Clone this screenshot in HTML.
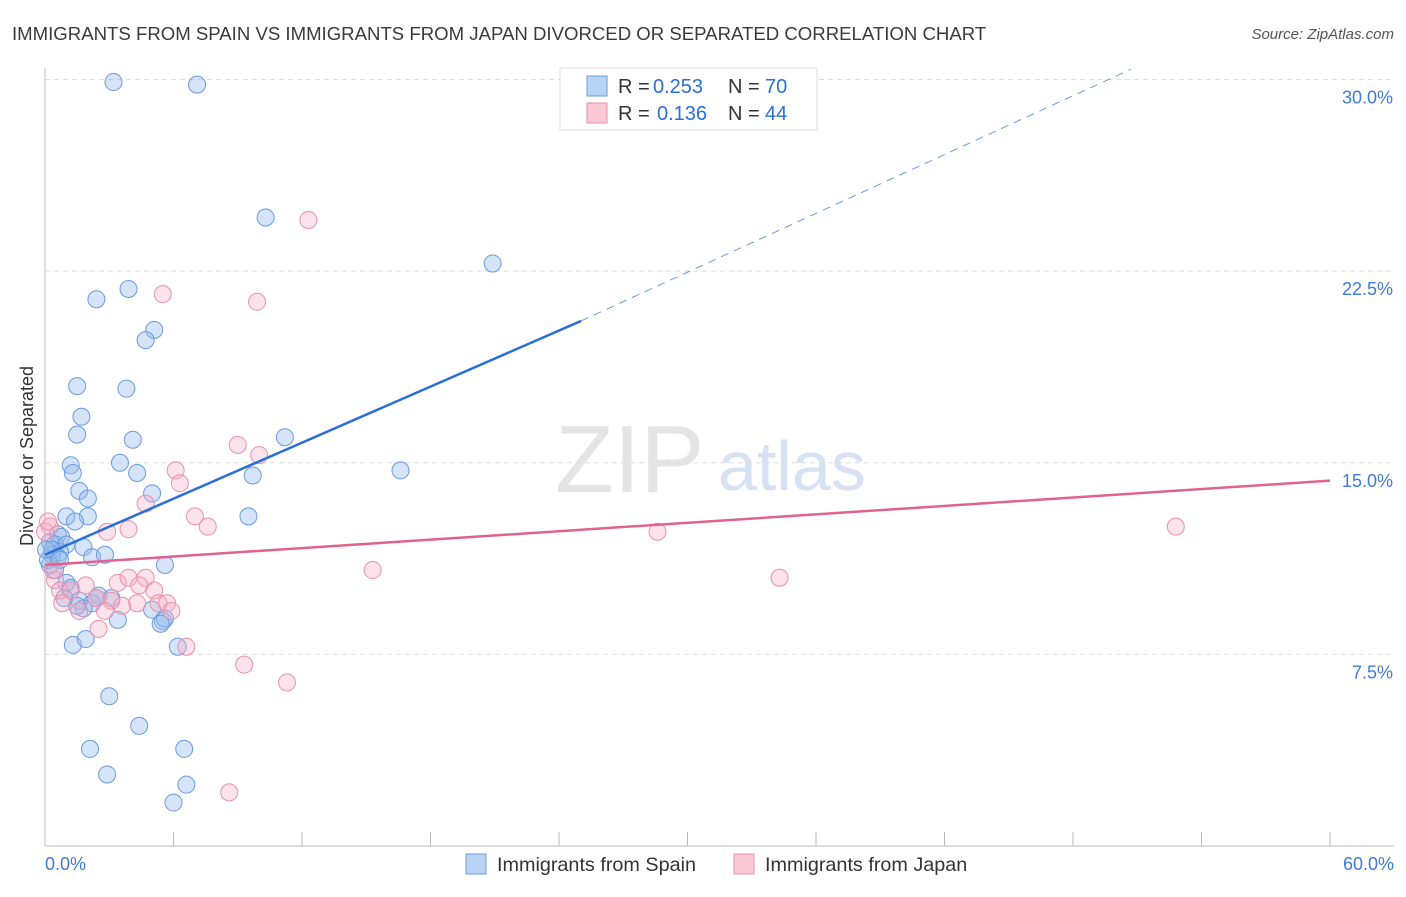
<!DOCTYPE html>
<html><head><meta charset="utf-8"><style>
body{margin:0;background:#fff;font-family:"Liberation Sans",sans-serif}
svg text{font-family:"Liberation Sans",sans-serif}
</style></head><body>
<svg id="chart" width="1406" height="892">
<text x="12" y="40" font-size="18.6" fill="#3a3a3a">IMMIGRANTS FROM SPAIN VS IMMIGRANTS FROM JAPAN DIVORCED OR SEPARATED CORRELATION CHART</text>
<text x="1394" y="39" font-size="15" fill="#555" text-anchor="end" font-style="italic">Source: ZipAtlas.com</text>
<text x="33" y="456" font-size="18" fill="#333" text-anchor="middle" transform="rotate(-90 33 456)">Divorced or Separated</text>
<text x="555" y="492" font-size="96" fill="#e4e4e4" font-family="Liberation Serif">ZIP</text>
<text x="718" y="490" font-size="70" fill="#d4e2f4">atlas</text>
<g id="grid"></g><g id="marks"></g>
<g>
<rect x="560" y="68" width="257" height="62" fill="#fff" stroke="#ddd"/>
<rect x="587" y="76" width="20" height="20" fill="#b9d3f5" stroke="#6a9be0"/>
<rect x="587" y="103" width="20" height="20" fill="#f9c9d6" stroke="#e891ab"/>
<text x="618" y="93" font-size="20" fill="#333">R =</text>
<text x="653" y="93" font-size="20" fill="#2a6fd6">0.253</text>
<text x="728" y="93" font-size="20" fill="#333">N =</text>
<text x="765" y="93" font-size="20" fill="#2a6fd6">70</text>
<text x="618" y="120" font-size="20" fill="#333">R =</text>
<text x="657" y="120" font-size="20" fill="#2a6fd6">0.136</text>
<text x="728" y="120" font-size="20" fill="#333">N =</text>
<text x="765" y="120" font-size="20" fill="#2a6fd6">44</text>
</g>
<g>
<rect x="466" y="854" width="20" height="20" fill="#b9d3f5" stroke="#6a9be0"/>
<text x="497" y="871" font-size="19.8" fill="#333">Immigrants from Spain</text>
<rect x="734" y="854" width="20" height="20" fill="#f9c9d6" stroke="#e891ab"/>
<text x="765" y="871" font-size="19.8" fill="#333">Immigrants from Japan</text>
</g>
</svg>
<script>
const yTicks=[7.5,15,22.5,30];
const yTickLabels=["7.5%","15.0%","22.5%","30.0%"];
const xTickLabels=["0.0%","60.0%"];
const spainX=[3.2,7.1,10.3,20.9,2.4,3.9,5.1,4.7,1.5,3.8,1.7,1.5,4.1,11.2,1.2,1.3,3.5,4.3,16.6,9.7,1.6,5.0,2.0,1.0,2.0,1.4,9.5,0.6,0.75,0.23,0.47,1.0,1.8,0.7,0.33,2.2,2.8,5.6,0.23,0.47,1.0,1.2,2.5,1.6,3.1,2.2,1.8,5.0,3.4,5.5,5.6,5.4,1.3,1.9,6.2,3.0,4.4,2.1,6.5,2.9,6.6,6.0,0.14,0.33,0.6,0.9,2.4,1.5,0.05,0.7];
const spainY=[29.9,29.8,24.6,22.8,21.4,21.8,20.2,19.8,18.0,17.9,16.8,16.1,15.9,16.0,14.9,14.6,15.0,14.6,14.7,14.5,13.9,13.8,13.6,12.9,12.9,12.7,12.9,12.2,12.1,11.9,11.8,11.8,11.7,11.5,11.4,11.3,11.4,11.0,11.0,10.8,10.3,10.1,9.8,9.6,9.7,9.5,9.3,9.25,8.85,8.8,8.9,8.7,7.87,8.1,7.8,5.86,4.7,3.8,3.8,2.8,2.4,1.7,11.2,11.6,11.3,9.7,9.7,9.4,11.6,11.2];
const japanX=[12.3,5.5,9.9,9.0,10.0,6.1,6.3,4.7,7.0,7.6,3.9,2.9,28.6,52.8,15.3,34.3,0.23,0.0,0.47,0.7,1.2,1.9,3.4,3.9,4.7,4.4,5.1,0.8,1.6,2.4,3.1,4.3,5.3,5.7,5.9,3.6,2.8,2.5,6.6,9.3,11.3,8.6,0.14,0.37];
const japanY=[24.5,21.6,21.3,15.7,15.3,14.7,14.2,13.4,12.9,12.5,12.4,12.3,12.3,12.5,10.8,10.5,12.5,12.3,10.4,10.0,10.0,10.2,10.3,10.5,10.5,10.2,10.0,9.5,9.2,9.7,9.6,9.5,9.5,9.5,9.2,9.4,9.2,8.5,7.8,7.1,6.4,2.1,12.7,10.8];
const spainTrend=[[0,11.4],[25.03,20.55],[50.7,30.4]];
const japanTrend=[[0,11.0],[60,14.3]];
const X=v=>45+v*(1330-45)/60;
const Y=v=>846-v*25.55;
const NS="http://www.w3.org/2000/svg";
const grid=document.getElementById('grid'),marks=document.getElementById('marks');
function mk(tag,attrs,parent){const e=document.createElementNS(NS,tag);for(const k in attrs)e.setAttribute(k,attrs[k]);parent.appendChild(e);return e;}
yTicks.forEach((t,i)=>{
 const l=mk('line',{x1:45,x2:1394,y1:Y(t),y2:Y(t),stroke:'#ddd','stroke-dasharray':'5,4'},grid);
 
 
 const tx=mk('text',{x:1393,y:Y(t)+24,'font-size':18,fill:'#3f7ad8','text-anchor':'end'},grid);
 tx.textContent=yTickLabels[i];
 
 
});
const ax=mk('line',{x1:45,x2:1394,y1:846,y2:846,stroke:'#bbb'},grid);


const ay=mk('line',{x1:45,x2:45,y1:68,y2:846,stroke:'#bbb'},grid);


for(let i=0;i<=10;i++){const t=mk('line',{x1:X(i*6),x2:X(i*6),y1:846,y2:832,stroke:'#bbb'},grid);
 
 }
[[0,'start',45],[1,'end',1394]].forEach(([i,a,x])=>{const t=mk('text',{x:x,y:870,'font-size':18,fill:'#3f7ad8','text-anchor':a},grid);t.textContent=xTickLabels[i];
 
 });
spainX.forEach((v,i)=>{const c=mk('circle',{cx:X(v),cy:Y(spainY[i]),r:8.5,fill:'rgba(150,188,238,0.4)',stroke:'#6a9be0','stroke-width':1},marks);
 
 });
japanX.forEach((v,i)=>{const c=mk('circle',{cx:X(v),cy:Y(japanY[i]),r:8.5,fill:'rgba(246,172,194,0.35)',stroke:'#e891ab','stroke-width':1},marks);
 
 });
const s1=mk('line',{x1:X(spainTrend[0][0]),y1:Y(spainTrend[0][1]),x2:X(spainTrend[1][0]),y2:Y(spainTrend[1][1]),stroke:'#2a6fd6','stroke-width':2.5},marks);


const s2=mk('line',{x1:X(spainTrend[1][0]),y1:Y(spainTrend[1][1]),x2:X(spainTrend[2][0]),y2:Y(spainTrend[2][1]),stroke:'#6a9be0','stroke-width':1,'stroke-dasharray':'8,6'},marks);


const j1=mk('line',{x1:X(japanTrend[0][0]),y1:Y(japanTrend[0][1]),x2:X(japanTrend[1][0]),y2:Y(japanTrend[1][1]),stroke:'#e0628d','stroke-width':2.5},marks);


</script>
</body></html>
